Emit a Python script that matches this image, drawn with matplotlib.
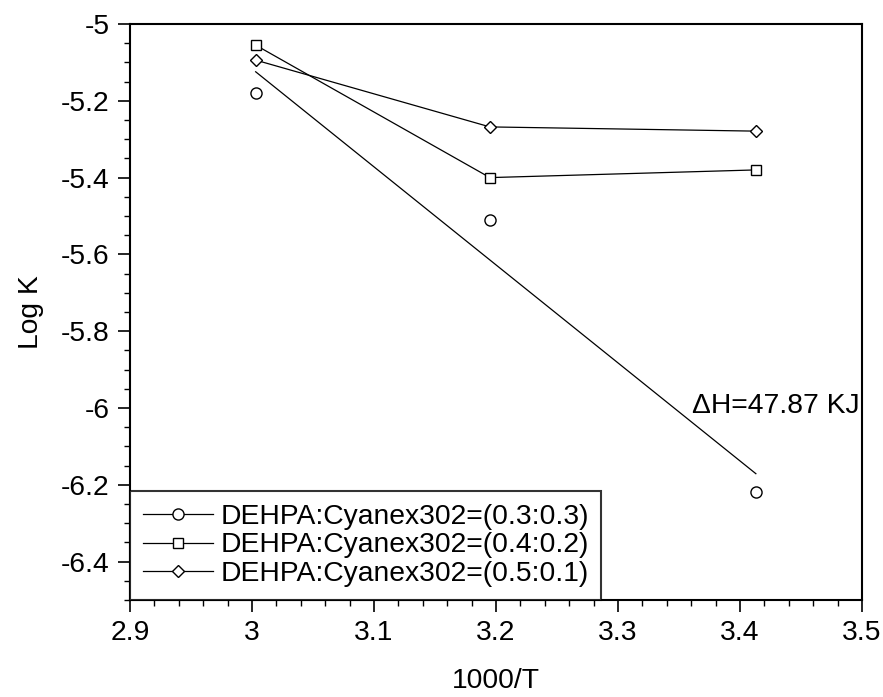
import matplotlib.pyplot as plt
import numpy as np
from matplotlib.ticker import MultipleLocator, FormatStrFormatter

plt.rcParams['font.family'] = ['Liberation Sans', 'DejaVu Sans']
plt.rcParams['axes.unicode_minus'] = False

# 1000/T and log K for the three extractant ratios
x = [3.003, 3.195, 3.413]
logk_33 = [-5.18, -5.51, -6.22]
logk_42 = [-5.055, -5.40, -5.38]
logk_51 = [-5.094, -5.268, -5.279]
labels = ['DEHPA:Cyanex302=(0.3:0.3)', 'DEHPA:Cyanex302=(0.4:0.2)', 'DEHPA:Cyanex302=(0.5:0.1)']

fs = 20.3

fig = plt.figure(figsize=(8.83, 6.97), dpi=100)
ax = fig.add_axes([130/883, 97/697, 732/883, 576/697])

mk = dict(markerfacecolor='white', markeredgecolor='black', markeredgewidth=1.0)
ax.plot(x, logk_33, 'o', color='black', markersize=8, **mk)
ax.plot(x, logk_42, 's-', color='black', lw=0.9, markersize=7.5, **mk)
ax.plot(x, logk_51, 'D-', color='black', lw=0.9, markersize=6.5, **mk)

# linear fit through the 0.3:0.3 points
p = np.polyfit(x, logk_33, 1)
xf = np.array([x[0], x[-1]])
ax.plot(xf, np.polyval(p, xf), color='black', lw=0.9)

ax.text(3.498, -5.995, '\u0394H=47.87 KJ', fontsize=fs, ha='right', va='center')

# legend handles
h1, = ax.plot([], [], 'o-', color='black', lw=0.9, markersize=8, **mk)
h2, = ax.plot([], [], 's-', color='black', lw=0.9, markersize=7.5, **mk)
h3, = ax.plot([], [], 'D-', color='black', lw=0.9, markersize=6.5, **mk)
leg = ax.legend([h1, h2, h3], labels, loc='lower left', bbox_to_anchor=(0, 0),
                fontsize=fs, frameon=True, fancybox=False, borderaxespad=0,
                handlelength=2.5, handletextpad=0.25, labelspacing=0.1,
                borderpad=0.45, edgecolor='black')
leg.get_frame().set_linewidth(1.5)

ax.set_xlim(2.9, 3.5)
ax.set_ylim(-6.5, -5)
ax.xaxis.set_major_locator(MultipleLocator(0.1))
ax.xaxis.set_minor_locator(MultipleLocator(0.02))
ax.yaxis.set_major_locator(MultipleLocator(0.2))
ax.yaxis.set_minor_locator(MultipleLocator(0.05))
ax.xaxis.set_major_formatter(FormatStrFormatter('%g'))
ax.yaxis.set_major_formatter(FormatStrFormatter('%g'))
ax.tick_params(which='major', direction='out', length=8.5, width=1.2, labelsize=fs, pad=6)
ax.tick_params(which='minor', direction='out', length=4.5, width=1.0)
for s in ax.spines.values():
    s.set_linewidth(1.5)

ax.set_xlabel('1000/T', fontsize=fs, labelpad=16)
ax.set_ylabel('Log K', fontsize=fs, labelpad=12)

fig.savefig('out.png', dpi=100)
